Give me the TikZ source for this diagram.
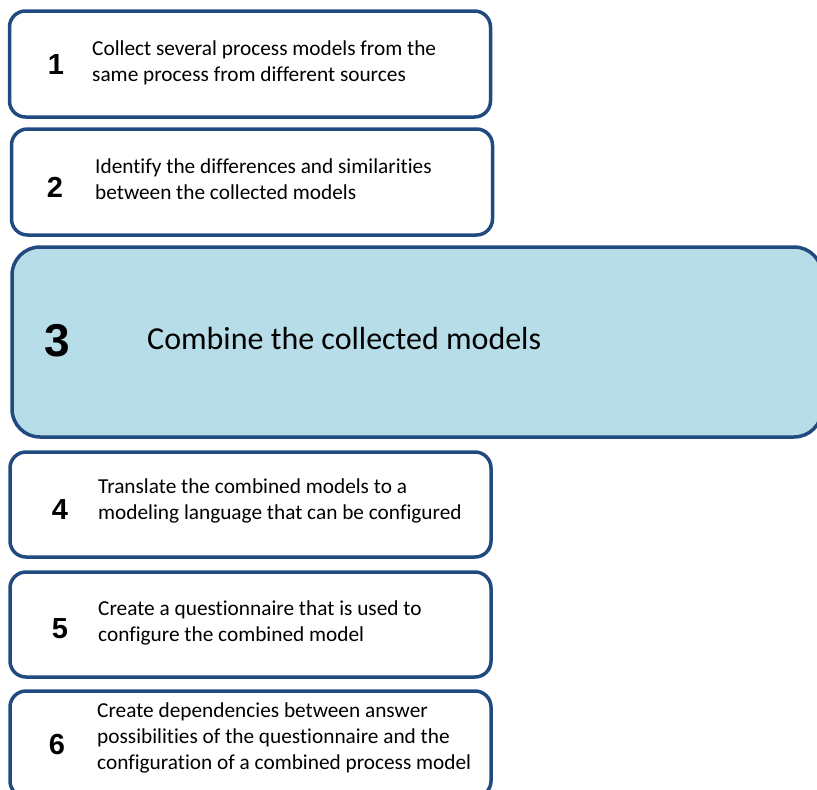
\documentclass[tikz,border=0pt]{standalone}
\usepackage{fontspec}
\setmainfont{Carlito}[Ligatures=CommonOff]
\newfontfamily\numfont{Liberation Sans}
% left-aligned lines whose baseline is that of the first line
\newcommand\steplines[1]{\vtop{\baselineskip=26pt\halign{##\hfil\cr#1\crcr}}}
\definecolor{boxblue}{RGB}{33,75,128}
\definecolor{boxfill}{RGB}{183,221,232}
\begin{document}
\begin{tikzpicture}[x=1pt,y=-1pt,
  stepbox/.style={draw=boxblue, line width=3.5pt, rounded corners=16pt,
    fill=white, inner sep=0pt, minimum width=481pt, minimum height=106pt},
  bigbox/.style={stepbox, fill=boxfill, rounded corners=28pt},
  stepnum/.style={inner sep=0pt, font=\numfont\bfseries\fontsize{29}{29}\selectfont},
  bignum/.style={inner sep=0pt, font=\numfont\bfseries\fontsize{46}{46}\selectfont},
  steptext/.style={inner sep=0pt, anchor=base west, font=\fontsize{21.3}{26}\selectfont},
  bigtext/.style={inner sep=0pt, anchor=base west, font=\fontsize{32}{38}\selectfont}]
\useasboundingbox (0,0) rectangle (817,790);
\clip (0,0) rectangle (817,790);

% step boxes
\node[stepbox] (b1) at (250,64) {};
\node[stepbox] (b2) at (252,182) {};
\node[bigbox, minimum width=810pt, minimum height=190pt] (b3) at (417,342) {};
\node[stepbox, minimum height=105pt] (b4) at (250.5,504.5) {};
\node[stepbox, minimum height=105pt] (b5) at (250.5,624.5) {};
\node[stepbox] (b6) at (250.5,744) {};

% step numbers
\node[stepnum] (n1) at (56,65) {1};
\node[stepnum] (n2) at (55,187) {2};
\node[bignum]  (n3) at (57,341) {3};
\node[stepnum] (n4) at (60,510) {4};
\node[stepnum] (n5) at (60,629) {5};
\node[stepnum] (n6) at (57,745) {6};

% step descriptions
\node[steptext] (t1) at (92,55) {\steplines{Collect several process models from the\cr same process from different sources}};
\node[steptext] (t2) at (95,173) {\steplines{Identify the differences and similarities\cr between the collected models}};
\node[bigtext]  (t3) at (147,349) {Combine the collected models};
\node[steptext] (t4) at (98,493) {\steplines{Translate the combined models to a\cr modeling language that can be configured}};
\node[steptext] (t5) at (98,615) {\steplines{Create a questionnaire that is used to\cr configure the combined model}};
\node[steptext] (t6) at (97,717) {\steplines{Create dependencies between answer\cr possibilities of the questionnaire and the\cr configuration of a combined process model}};
\end{tikzpicture}
\end{document}
